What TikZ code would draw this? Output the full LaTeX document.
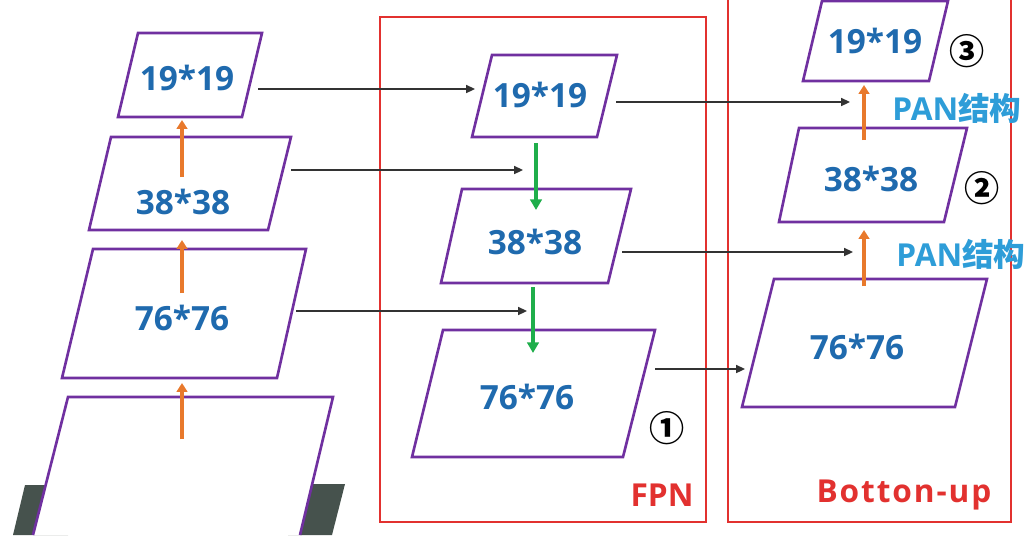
\documentclass[tikz,border=0pt]{standalone}
\usepackage{fontspec}
\setmainfont{Open Sans}
\newfontfamily\cjk{Noto Sans CJK SC}
\usetikzlibrary{arrows.meta}
\definecolor{mappurple}{HTML}{7030A0}
\definecolor{sizeblue}{HTML}{1F6AAE}
\definecolor{panblue}{HTML}{2E9DD8}
\definecolor{boxred}{HTML}{E2312F}
\definecolor{uporange}{HTML}{E8792C}
\definecolor{downgreen}{HTML}{1FAE4B}
\definecolor{slab}{HTML}{46524D}
\tikzset{
  fmap/.style={draw=mappurple, line width=1.5pt, fill=white, line join=miter},
  sizelbl/.style={text=sizeblue, font=\fontsize{19}{19}\selectfont\bfseries},
  redbox/.style={draw=boxred, line width=1.5pt},
  redlbl/.style={text=boxred, font=\fontsize{18}{18}\selectfont\bfseries},
  panlbl/.style={text=panblue, font=\fontsize{18}{18}\selectfont\bfseries},
  numlbl/.style={font=\fontsize{20}{20}\selectfont\cjk\bfseries},
  lat/.style={draw=black!80, line width=1pt, -{Triangle[length=5pt,width=4.5pt]}},
  up/.style={draw=uporange, line width=2pt, -{Triangle[length=5pt,width=6pt]}},
  down/.style={draw=downgreen, line width=1.8pt, -{Triangle[length=6pt,width=6.5pt]}}
}
\begin{document}
\begin{tikzpicture}[x=0.02cm, y=-0.02cm]
\useasboundingbox (0,0) rectangle (1035,535);
% backbone, left
\fill[slab] (13,535) -- (25,485) -- (80,485) -- (68,535) -- cycle;
\fill[slab] (288,535) -- (300,484) -- (345,484) -- (332,535) -- cycle;
\filldraw[fmap] (33,535) -- (68,397) -- (333,397) -- (300,535);
\filldraw[fmap] (62,378) -- (277,378) -- (306,249) -- (93,249) -- cycle;
\filldraw[fmap] (89,230) -- (268,230) -- (291,137) -- (111,137) -- cycle;
\filldraw[fmap] (118,117) -- (242,117) -- (262,33) -- (138,33) -- cycle;
\node[sizelbl] (p76) at (182,318) {76*76};
\node[sizelbl] (p38) at (183,202) {38*38};
\node[sizelbl] (p19) at (187,78) {19*19};
% FPN
\draw[redbox] (380,17) rectangle (706,522);
\filldraw[fmap] (472,137) -- (597,137) -- (617,55) -- (492,55) -- cycle;
\filldraw[fmap] (441,283) -- (608,283) -- (631,189) -- (462,189) -- cycle;
\filldraw[fmap] (412,457) -- (623,457) -- (655,330) -- (443,330) -- cycle;
\node[sizelbl] (f19) at (540,95) {19*19};
\node[sizelbl] (f38) at (535,242) {38*38};
\node[sizelbl] (f76) at (527,397) {76*76};
\node[redlbl] (fpn) at (662,495) {FPN};
\node[numlbl] (n1) at (667,428) {①};
% bottom-up
\draw[redbox] (728,0) -- (728,522) -- (1011,522) -- (1011,0);
\filldraw[fmap] (803,81) -- (929,81) -- (948,1) -- (822,1) -- cycle;
\filldraw[fmap] (779,222) -- (944,222) -- (967,128) -- (799,128) -- cycle;
\filldraw[fmap] (742,407) -- (955,407) -- (987,279) -- (774,279) -- cycle;
\node[sizelbl] (b19) at (875,41) {19*19};
\node[sizelbl] (b38) at (871,179) {38*38};
\node[sizelbl] (b76) at (857,347) {76*76};
\node[redlbl] (bup) at (904,495) {\addfontfeature{LetterSpace=6}Botton-up};
\node[numlbl] (n2) at (982,188) {②};
\node[numlbl] (n3) at (967,51) {③};
\node[panlbl] (pan1) at (957,108) {PAN{\cjk 结构}};
\node[panlbl] (pan2) at (961,254) {PAN{\cjk 结构}};
% arrow ends
\coordinate (p19r) at (258,89);  \coordinate (f19l) at (475,89);
\coordinate (p38r) at (291,170); \coordinate (f38t) at (523,170);
\coordinate (p76r) at (296,311); \coordinate (f76t) at (527,311);
\coordinate (f19r) at (616,102); \coordinate (b19b) at (850,102);
\coordinate (f38r) at (622,252); \coordinate (b38b) at (853,252);
\coordinate (f76r) at (655,369); \coordinate (b76l) at (745,369);
\coordinate (p19u) at (182,120); \coordinate (p38u) at (182,177);
\coordinate (p38d) at (182,240); \coordinate (p76u) at (182,293);
\coordinate (p76d) at (182,383); \coordinate (p0u) at (182,439);
\coordinate (b19u) at (864,85);  \coordinate (b38u) at (864,140);
\coordinate (b38d) at (864,230); \coordinate (b76u) at (864,286);
\coordinate (f19d) at (536,143); \coordinate (f38u) at (536,210);
\coordinate (f38d) at (533,287); \coordinate (f76u) at (533,353);
% lateral links
\draw[lat] (p19r) -- (f19l);
\draw[lat] (p38r) -- (f38t);
\draw[lat] (p76r) -- (f76t);
\draw[lat] (f19r) -- (b19b);
\draw[lat] (f38r) -- (b38b);
\draw[lat] (f76r) -- (b76l);
% up and down paths
\draw[up] (p38u) -- (p19u);
\draw[up] (p76u) -- (p38d);
\draw[up] (p0u) -- (p76d);
\draw[up] (b38u) -- (b19u);
\draw[up] (b76u) -- (b38d);
\draw[down] (f19d) -- (f38u);
\draw[down] (f38d) -- (f76u);
\end{tikzpicture}
\end{document}
